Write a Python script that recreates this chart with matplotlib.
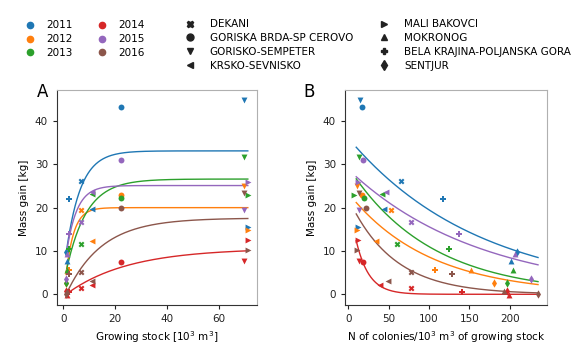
import numpy as np
import matplotlib.pyplot as plt
from matplotlib.lines import Line2D

plt.rcParams["font.size"] = 7.5

# =========================
# DATA
# =========================
years = [2011, 2012, 2013, 2014, 2015, 2016]
colors = ["tab:blue", "tab:orange", "tab:green", "tab:red", "tab:purple", "tab:brown"]

locations = ["DEKANI", "GORISKA BRDA-SP CEROVO", "GORISKO-SEMPETER", "KRSKO-SEVNISKO",
             "MALI BAKOVCI", "MOKRONOG", "BELA KRAJINA-POLJANSKA GORA", "SENTJUR"]
markers = ["X", "o", "v", "<", ">", "^", "P", "d"]

# growing stock per location [10^3 m^3]
growing_stock = [7.0, 22.3, 69.6, 11.2, 71.0, 1.4, 2.1, 1.1]

# colonies per 10^3 m^3 of growing stock (rows = years, cols = locations)
colony_density = [
    [65.7, 16.6, 14.1, 44.9, 11.6, 202.0, 117.7, 209.6],
    [53.4, 17.0, 10.5, 34.5, 10.8, 152.0, 107.0, 180.0],
    [60.7, 20.0, 13.7, 42.5, 7.5, 204.0, 125.0, 197.0],
    [78.0, 18.9, 13.4, 39.0, 11.6, 199.0, 141.0, 197.0],
    [77.5, 18.7, 13.7, 47.0, 11.6, 206.0, 137.6, 226.0],
    [78.0, 22.5, 13.2, 49.0, 10.8, 193.0, 129.0, 235.0],
]

# mass gain [kg] (rows = years, cols = locations)
mass_gain = [
    [26.2, 43.2, 44.9, 19.8, 15.5, 7.7, 21.9, 9.8],
    [19.4, 22.9, 25.1, 12.2, 14.8, 5.5, 5.6, 2.6],
    [11.7, 22.2, 31.7, 23.2, 22.9, 5.5, 10.4, 2.5],
    [1.5, 7.5, 7.6, 2.2, 12.6, -0.2, 0.6, 0.8],
    [16.6, 31.0, 19.4, 23.6, 25.9, 9.2, 14.0, 3.5],
    [5.2, 20.0, 23.3, 3.0, 10.2, 0.8, 4.6, 0.0],
]

# fitted saturation curves, panel A: y = a - b * exp(-k * x)
sat_a = [33.1, 20.0, 26.6, 10.6, 25.1, 17.6]
sat_b = [28.9, 22.2, 24.7, 11.1, 21.2, 19.1]
sat_k = [0.18, 0.33, 0.13, 0.042, 0.25, 0.073]

# fitted decay curves, panel B: y = a * exp(-k * x)
dec_a = [36.1, 23.4, 29.4, 23.2, 28.85, 22.2]
dec_k = [0.00616, 0.00998, 0.00982, 0.063, 0.00615, 0.018]

# =========================
# FIGURE
# =========================
fig = plt.figure(figsize=(5.76, 3.6), dpi=100)
ax_a = fig.add_axes([0.099, 0.153, 0.347, 0.597])
ax_b = fig.add_axes([0.599, 0.153, 0.351, 0.597])

gs = np.array(growing_stock)
dens = np.array(colony_density)
gain = np.array(mass_gain)

xa = np.linspace(gs.min(), gs.max(), 300)
xb = np.linspace(10, dens.max(), 300)

for i, col in enumerate(colors):
    ax_a.plot(xa, sat_a[i] - sat_b[i] * np.exp(-sat_k[i] * xa), color=col, linewidth=1.0, zorder=2)
    ax_b.plot(xb, dec_a[i] * np.exp(-dec_k[i] * xb), color=col, linewidth=1.0, zorder=2)
    for j, m in enumerate(markers):
        ax_a.scatter(gs[j], gain[i, j], marker=m, color=col, s=18, linewidths=0, zorder=3)
        ax_b.scatter(dens[i, j], gain[i, j], marker=m, color=col, s=18, linewidths=0, zorder=3)

for ax in (ax_a, ax_b):
    ax.set_ylabel("Mass gain [kg]")
    ax.set_yticks([0, 10, 20, 30, 40])
    ax.spines["top"].set_color("#b0b0b0")
    ax.spines["right"].set_color("#b0b0b0")
    ax.spines["left"].set_color("#333333")
    ax.spines["bottom"].set_color("#333333")
    ax.tick_params(length=3, width=0.8, colors="#222222")

ax_a.set_xticks([0, 20, 40, 60])
ax_b.set_xticks([0, 50, 100, 150, 200])
ax_a.set_xlabel("Growing stock [10$^3$ m$^3$]")
ax_b.set_xlabel("N of colonies/10$^3$ m$^3$ of growing stock")

fig.text(0.064, 0.73, "A", fontsize=12)
fig.text(0.526, 0.73, "B", fontsize=12)

# legends
year_handles = [Line2D([], [], linestyle="none", marker="o", color=c, markersize=4.5) for c in colors]
fig.legend(year_handles, [str(y) for y in years], loc="upper left", bbox_to_anchor=(0.035, 0.955),
           ncol=2, frameon=False, borderaxespad=0, handlelength=1, handletextpad=1.1,
           columnspacing=2.3, labelspacing=0.37)

loc_handles = [Line2D([], [], linestyle="none", marker=m, color="#222222", markersize=5) for m in markers]
fig.legend(loc_handles, locations, loc="upper left", bbox_to_anchor=(0.3135, 0.958),
           ncol=2, frameon=False, borderaxespad=0, handlelength=1, handletextpad=1.4,
           columnspacing=2.5, labelspacing=0.37)

fig.savefig("out.png", dpi=100)
